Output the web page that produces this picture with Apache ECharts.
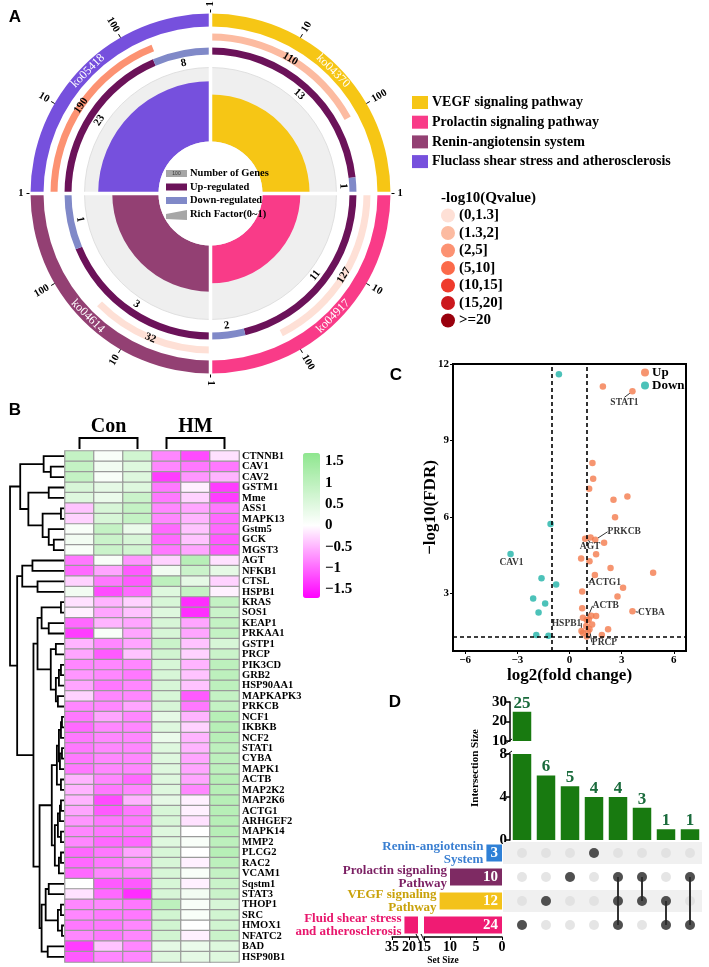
<!DOCTYPE html>
<html>
<head>
<meta charset="utf-8">
<script src="https://cdn.jsdelivr.net/npm/echarts@6/dist/echarts.min.js"></script>
<style>
html, body { margin: 0; padding: 0; background: #fff; }
#main { width: 709px; height: 967px; }
</style>
</head>
<body>
<div id="main"></div>
<script>
// ---------- A: KEGG circle ----------
const pathways = ['VEGF signaling pathway', 'Prolactin signaling pathway', 'Renin-angiotensin system', 'Fluclass shear stress and atherosclerosis'];
const koIds = ['ko04370', 'ko04917', 'ko04614', 'ko05418'];
const bgGenes = [110, 127, 32, 190];
const upGenes = [13, 11, 3, 23];
const downGenes = [1, 2, 1, 8];
const qScore = [1.6, 1.0, 0.9, 2.6]; // -log10(Qvalue)
const qBins = ['(0,1.3]', '(1.3,2]', '(2,5]', '(5,10]', '(10,15]', '(15,20]', '>=20'];
const qBreaks = [1.3, 2, 5, 10, 15, 20];
const ringTicks = [1, 10, 100];

// ---------- B: heatmap ----------
const samples = ['Con1', 'Con2', 'Con3', 'HM1', 'HM2', 'HM3'];
const colGroups = [['Con', 0, 2], ['HM', 3, 5]];
const genes = ['CTNNB1', 'CAV1', 'CAV2', 'GSTM1', 'Mme', 'ASS1', 'MAPK13', 'Gstm5', 'GCK', 'MGST3',
  'AGT', 'NFKB1', 'CTSL', 'HSPB1', 'KRAS', 'SOS1', 'KEAP1', 'PRKAA1', 'GSTP1', 'PRCP',
  'PIK3CD', 'GRB2', 'HSP90AA1', 'MAPKAPK3', 'PRKCB', 'NCF1', 'IKBKB', 'NCF2', 'STAT1', 'CYBA',
  'MAPK1', 'ACTB', 'MAP2K2', 'MAP2K6', 'ACTG1', 'ARHGEF2', 'MAPK14', 'MMP2', 'PLCG2', 'RAC2',
  'VCAM1', 'Sqstm1', 'STAT3', 'THOP1', 'SRC', 'HMOX1', 'NFATC2', 'BAD', 'HSP90B1'];
const zScores = [
  [0.9, 0.1, 0.7, -0.8, -1.2, -0.2], [0.9, 0.2, 0.5, -0.8, -0.9, -0.9], [0.9, 0.1, 0.5, -1.3, -0.7, -0.5],
  [0.6, 0.4, 0.5, -0.9, -0.1, -1.3], [0.5, 0.3, 0.8, -0.9, -0.3, -1.3], [-0.4, 0.6, 0.9, -0.8, -0.6, -0.9],
  [-0.3, 0.6, 0.9, -0.8, -0.5, -1.0], [0.1, 0.9, 0.3, -1.0, -0.4, -1.0], [0.2, 0.8, 0.6, -1.0, -0.4, -1.1],
  [0.1, 0.8, 0.7, -0.9, -0.6, -1.1], [-0.9, 0.1, -0.7, -0.3, 1.1, -0.2], [-1.0, -0.6, -1.1, 0.2, 0.8, 0.4],
  [-0.3, -0.9, -1.1, 1.0, 0.4, -0.3], [0.2, -1.2, -1.0, 0.5, 0.9, -0.1], [-0.2, -0.5, -0.3, 0.6, -1.4, 0.9],
  [-0.1, -0.6, -0.4, 0.5, -1.4, 0.8], [-1.0, -0.5, -0.6, 0.6, -0.6, 0.9], [-1.3, 0.1, -0.6, 0.6, -0.6, 0.9],
  [-0.5, -0.8, -0.6, 0.8, -0.4, 0.6], [-0.6, -1.1, -0.4, 0.7, -0.3, 0.8], [-0.8, -0.8, -0.8, 0.6, -0.5, 1.0],
  [-0.7, -0.8, -0.9, 0.6, -0.4, 1.0], [-0.6, -0.9, -0.8, 0.6, -0.4, 1.0], [-0.3, -0.8, -0.8, 0.6, -1.1, 0.9],
  [-0.8, -0.8, -0.6, 0.6, -0.9, 0.9], [-0.9, -0.6, -0.8, 0.4, -0.5, 1.1], [-1.0, -0.8, -0.8, 0.5, -0.3, 1.1],
  [-0.9, -0.8, -0.8, 0.3, -0.5, 1.1], [-0.9, -0.8, -0.8, 0.5, -0.5, 1.0], [-0.9, -0.8, -0.8, 0.5, -0.6, 1.0],
  [-0.9, -0.8, -0.8, 0.5, -0.6, 1.0], [-0.5, -0.8, -1.0, 0.5, -0.6, 1.1], [-0.5, -0.9, -0.8, 0.5, -0.8, 1.1],
  [-0.5, -1.2, -0.5, 0.4, -0.1, 1.1], [-0.6, -1.1, -0.9, 0.6, -0.1, 1.1], [-0.7, -0.9, -0.9, 0.6, -0.2, 1.1],
  [-0.8, -0.9, -0.9, 0.5, 0.0, 1.1], [-0.8, -1.0, -1.0, 0.5, 0.1, 1.0], [-1.0, -0.9, -0.6, 0.6, 0.0, 1.1],
  [-1.0, -0.9, -0.7, 0.6, -0.1, 1.0], [-1.0, -0.8, -0.8, 0.6, 0.1, 0.9], [0.0, -1.1, -1.1, 0.6, -0.1, 0.8],
  [-0.2, -1.0, -1.4, 0.6, 0.2, 0.8], [-0.8, -0.8, -0.9, 1.0, 0.1, 0.6], [-0.8, -0.9, -0.9, 0.7, 0.1, 0.7],
  [-0.9, -0.9, -0.8, 0.7, 0.0, 0.7], [-0.8, -0.9, -0.8, 0.7, -0.1, 0.8], [-1.3, -0.4, -0.8, 0.4, 0.3, 0.5],
  [-1.1, -0.8, -0.8, 0.5, 0.4, 0.5]
];
const colorTicks = [-1.5, -1, -0.5, 0, 0.5, 1, 1.5];
// row clustering: [height, left, right], leaves are row indices
const rowTree = [53,
  [43, [20, 0, [13, 1, 2]], [35, [15, 3, 4], [21, [3, 5, 6], [15, 7, [10, 8, 9]]]]],
  [46,
    [41, [31, 10, 11], [26, 12, 13]],
    [30,
      [26, [22, [3, 14, 15], [15, 16, 17]], [13, [8, 18, 19], [8, [5, [3, 20, 21], 22], [6, 23, 24]]]],
      [24,
        [12, [7, [5, [3, [2, 25, 26], 27], [4, [2, 28, 29], 30]], [3, 31, 32]],
             [9, [6, [4, [3, 33, 34], 35], [3, 36, 37]], [5, [3, 38, 39], 40]]],
        [22, [18, [15, 41, 42], [6, [3, 43, 44], [2, 45, 46]]], [16, 47, 48]]]]]];

// ---------- C: volcano ----------
const volcanoUp = [[1.92, 11.12, ''], [3.62, 10.93, 'STAT1'], [1.32, 8.12, ''], [1.36, 7.5, ''], [1.13, 7.11, ''],
  [3.33, 6.81, ''], [2.53, 6.68, ''], [2.62, 5.99, ''], [1.21, 5.2, ''], [0.90, 5.15, 'AGT'], [1.48, 5.11, 'PRKCB'],
  [1.99, 4.99, ''], [1.53, 4.54, ''], [0.67, 4.38, ''], [1.15, 4.27, ''], [2.36, 4.0, ''], [4.81, 3.82, ''],
  [1.46, 3.73, 'ACTG1'], [3.08, 3.23, ''], [0.73, 3.08, ''], [2.76, 2.89, ''], [3.62, 2.31, 'CYBA'], [0.73, 2.43, ''],
  [0.77, 2.05, ''], [0.99, 1.97, 'ACTB'], [1.25, 2.13, ''], [1.53, 2.12, ''], [1.11, 1.98, ''], [1.30, 1.79, ''],
  [0.96, 1.73, ''], [2.22, 1.6, ''], [0.69, 1.53, 'HSPB1'], [1.07, 1.52, ''], [0.77, 1.46, ''], [1.15, 1.6, 'PRCP'],
  [1.86, 1.38, ''], [0.99, 1.32, '']];
const volcanoDown = [[-0.61, 11.6, ''], [-1.09, 5.73, ''], [-3.39, 4.55, 'CAV1'], [-1.61, 3.6, ''], [-0.77, 3.36, ''],
  [-2.09, 2.81, ''], [-1.40, 2.61, ''], [-1.78, 2.26, ''], [-1.91, 1.38, ''], [-1.21, 1.35, '']];
const fcCut = 1;
const fdrCut = 1.3;
const volcanoXTicks = [-6, -3, 0, 3, 6];
const volcanoYTicks = [3, 6, 9, 12];

// ---------- D: upset ----------
const setNames = ['Renin-angiotensin\nSystem', 'Prolactin signaling\nPathway', 'VEGF signaling\nPathway', 'Fluid shear stress\nand atherosclerosis'];
const setSizes = [3, 10, 12, 24];
const intersectSizes = [25, 6, 5, 4, 4, 3, 1, 1];
const intersectMembers = [[3], [2], [1], [0], [1, 2, 3], [1, 2], [2, 3], [1, 3]];

// ---------- styles ----------
const SERIF = "'Liberation Serif','Times New Roman',serif";
const SANS = "'Liberation Sans',Arial,sans-serif";
const fb = s => 'bold ' + s + 'px ' + SERIF;
const pwColors = ['#f6c615', '#f93b88', '#934073', '#7650dd'];
const qColors = ['#fee0d6', '#fcbba1', '#fc9272', '#fb6a4a', '#ef3b2c', '#cb181d', '#99000d'];
const UP_C = '#6b1259', DOWN_C = '#8089c8';
const R = { hole: 52, bg: 126, udIn: 139, udOut: 146, udLabel: 133, qIn: 153, qOut: 160, qMid: 156.5,
  koIn: 167, koOut: 180, koMid: 173.5, tick: 184, tickLabel: 187 };
const RICH_MAX = 0.2, RING_DECADES = 3;
const setColors = ['#2f80d6', '#7e2a63', '#f3c21b', '#f01b73'];
const setLabelColors = ['#3a7fd1', '#7b1f63', '#c9a20a', '#e8166c'];
const minus = v => String(v).replace('-', '\u2212');

function qColor(s) {
  const k = qBreaks.findIndex(b => s <= b);
  return qColors[k < 0 ? qColors.length - 1 : k];
}

function polarHelpers(params, api) {
  const cs = params.coordSys;
  const pt = (r, a) => api.coord([r, a]);
  const ang = p => Math.atan2(p[1] - cs.cy, p[0] - cs.cx);
  const dist = p => Math.hypot(p[0] - cs.cx, p[1] - cs.cy);
  return {
    pt,
    sector(a0, a1, r0, r1, style) {
      const p0 = pt(r1, a0), p1 = pt(r1, a1);
      let s = ang(p0), e = ang(p1);
      if (e <= s) e += Math.PI * 2;
      return { type: 'sector', shape: { cx: cs.cx, cy: cs.cy, r0: dist(pt(r0, a0)), r: dist(p0), startAngle: s, endAngle: e, clockwise: true }, style };
    },
    radialText(r, a, text, font) {
      const p = pt(r, a), t = ang(p), right = Math.cos(t) > -1e-6;
      return { type: 'text', x: p[0], y: p[1], rotation: right ? -t : Math.PI - t,
        style: { text, font, fill: '#000', align: right ? 'left' : 'right', verticalAlign: 'middle' } };
    },
    tangText(r, a, text, font, fill) {
      const p = pt(r, a), t = ang(p);
      const rot = Math.sin(t) <= 1e-6 ? -(t + Math.PI / 2) : -(t - Math.PI / 2);
      return { type: 'text', x: p[0], y: p[1], rotation: rot,
        style: { text, font, fill: fill || '#000', align: 'center', verticalAlign: 'middle' } };
    }
  };
}

function renderPathway(params, api) {
  const i = params.dataIndex, h = polarHelpers(params, api);
  const total = upGenes[i] + downGenes[i];
  const rich = total / bgGenes[i];
  const upEnd = i + upGenes[i] / total;
  const qEnd = i + Math.log10(bgGenes[i]) / RING_DECADES;
  const richR = R.hole + rich / RICH_MAX * (R.bg - R.hole);
  const kids = [
    h.sector(i, i + 1, R.hole, R.bg, { fill: '#efefef', stroke: '#d9d9d9', lineWidth: 0.8 }),
    h.sector(i, i + 1, R.hole, richR, { fill: pwColors[i] }),
    h.sector(i, upEnd, R.udIn, R.udOut, { fill: UP_C }),
    h.sector(upEnd, i + 1, R.udIn, R.udOut, { fill: DOWN_C }),
    h.sector(i, qEnd, R.qIn, R.qOut, { fill: qColor(qScore[i]) }),
    h.sector(i, i + 1, R.koIn, R.koOut, { fill: pwColors[i] }),
    h.tangText(R.udLabel, (i + upEnd) / 2, String(upGenes[i]), fb(11)),
    h.tangText(R.udLabel, (upEnd + i + 1) / 2, String(downGenes[i]), fb(11)),
    h.tangText(R.qMid, (i + qEnd) / 2, String(bgGenes[i]), fb(11)),
    h.tangText(R.koMid, i + 0.5, koIds[i], '12px ' + SERIF, '#fff')
  ];
  ringTicks.forEach(t => {
    const a = i + Math.log10(t) / RING_DECADES;
    const p0 = h.pt(R.koOut, a), p1 = h.pt(R.tick, a);
    kids.push({ type: 'line', shape: { x1: p0[0], y1: p0[1], x2: p1[0], y2: p1[1] }, style: { stroke: '#000', lineWidth: 1 } });
    kids.push(h.radialText(R.tickLabel, a, String(t), fb(10.5)));
  });
  return { type: 'group', children: kids };
}

function renderGap(params, api) {
  const i = params.dataIndex;
  const p0 = api.coord([0, i]), p1 = api.coord([R.koOut + 1, i]);
  return { type: 'line', shape: { x1: p0[0], y1: p0[1], x2: p1[0], y2: p1[1] }, style: { stroke: '#fff', lineWidth: 3.5 } };
}

// dendrogram links from the tree
const rowLinks = [];
function layoutTree(node) {
  if (typeof node === 'number') return { pos: node, h: 0 };
  const a = layoutTree(node[1]), b = layoutTree(node[2]);
  rowLinks.push([a.h, a.pos, b.h, b.pos, node[0]]);
  return { pos: (a.pos + b.pos) / 2, h: node[0] };
}
layoutTree(rowTree);

const heatData = [];
zScores.forEach((row, r) => row.forEach((v, c) => heatData.push([c, r, v])));

const labelOffsets = { STAT1: [-8, 11], PRKCB: [29, -8], AGT: [5, 8], CAV1: [1, 8], ACTG1: [10, 8],
  ACTB: [19, -14], CYBA: [19, 1], HSPB1: [-15, -8], PRCP: [15, 13] };
const toPoints = arr => arr.map(d => ({ value: [d[0], d[1]], name: d[2], label: { show: !!d[2] } }));

const U1_MIN = 10, U2_MAX = 8, S1_MAX = 15, S2_MIN = 12;
const matrixAll = [];
intersectSizes.forEach((_, c) => setNames.forEach((_, r) => matrixAll.push([c, r])));
const matrixOn = [];
intersectMembers.forEach((m, c) => m.forEach(r => matrixOn.push([c, r])));
const matrixLinks = intersectMembers.map((m, c) => [c, Math.min(...m), Math.max(...m)]).filter(d => d[1] !== d[2]);
const bandRows = setNames.map((_, r) => [0, r]).filter(d => d[1] % 2 === 0);

const G = (left, top, width, height, extra) => Object.assign({ left, top, width, height, containLabel: false, outerBoundsMode: 'none' }, extra || {});
const hidden = (gi, extra) => Object.assign({ gridIndex: gi, show: false }, extra);
const axisBlack = { lineStyle: { color: '#000', width: 1.5 } };

// ---------- graphics (legends, panel letters) ----------
const graphics = [];
const txt = (x, y, text, font, extra) => graphics.push(Object.assign({ type: 'text', x, y, z: 100,
  style: Object.assign({ text, font, fill: '#000', align: 'left', verticalAlign: 'middle' }, extra || {}) }));
txt(15, 17, 'A', 'bold 17px ' + SANS, { align: 'center' });
txt(15, 410, 'B', 'bold 17px ' + SANS, { align: 'center' });
txt(396, 375, 'C', 'bold 17px ' + SANS, { align: 'center' });
txt(395, 702, 'D', 'bold 17px ' + SANS, { align: 'center' });
pathways.forEach((p, i) => {
  graphics.push({ type: 'rect', z: 100, shape: { x: 412, y: 96 + i * 19.7, width: 16, height: 13 }, style: { fill: pwColors[i] } });
  txt(432, 102.5 + i * 19.7, p, fb(14));
});
txt(441, 198, '-log10(Qvalue)', fb(15));
qBins.forEach((b, i) => {
  graphics.push({ type: 'circle', z: 100, shape: { cx: 448, cy: 215.5 + i * 17.5, r: 7 }, style: { fill: qColors[i] } });
  txt(459, 215.5 + i * 17.5, b, fb(15));
});
// centre key of the circle
graphics.push({ type: 'circle', z: 99, shape: { cx: 210.5, cy: 193.5, r: R.hole }, style: { fill: '#fff' } });
graphics.push({ type: 'rect', z: 100, shape: { x: 166, y: 170, width: 21, height: 7 }, style: { fill: '#a6a6a6' } });
txt(176.5, 173.5, '100', '5px ' + SANS, { align: 'center', fill: '#333' });
graphics.push({ type: 'rect', z: 100, shape: { x: 166, y: 183.5, width: 21, height: 7 }, style: { fill: UP_C } });
graphics.push({ type: 'rect', z: 100, shape: { x: 166, y: 197, width: 21, height: 7 }, style: { fill: DOWN_C } });
graphics.push({ type: 'polygon', z: 100, shape: { points: [[166, 214], [187, 210], [187, 220], [166, 219]] }, style: { fill: '#a6a6a6' } });
txt(190, 173.5, 'Number of Genes', fb(10.5));
txt(190, 187, 'Up-regulated', fb(10.5));
txt(190, 200.5, 'Down-regulated', fb(10.5));
txt(190, 214.5, 'Rich Factor(0~1)', fb(10.5));
// upset decorations
txt(475, 768, 'Intersection Size', fb(11), { align: 'center' });
graphics[graphics.length - 1].rotation = Math.PI / 2;
txt(443, 961, 'Set Size', fb(9.5), { align: 'center' });
[[505, 744, 512, 739], [505, 756, 512, 751], [416, 934, 420, 942], [421, 934, 425, 942]].forEach(l =>
  graphics.push({ type: 'line', z: 100, shape: { x1: l[0], y1: l[1], x2: l[2], y2: l[3] }, style: { stroke: '#000', lineWidth: 1 } }));

const option = {
  animation: false,
  backgroundColor: '#fff',
  textStyle: { fontFamily: SERIF },
  polar: { center: [210.5, 193.5], radius: [0, 180] },
  angleAxis: { type: 'value', min: 0, max: 4, startAngle: 90, clockwise: true, show: false },
  radiusAxis: { type: 'value', min: 0, max: 180, show: false },
  grid: [
    G(65, 451, 174, 511),   // 0 heatmap
    G(8, 451, 56, 511),     // 1 row dendrogram
    G(65, 438, 174, 11),    // 2 column brackets
    G(320, 453, 1, 145),    // 3 colour bar labels
    G(453, 364, 233, 287, { show: true, borderColor: '#000', borderWidth: 2, backgroundColor: 'transparent' }),  // 4 volcano
    G(510, 702, 192, 39),   // 5 upset bars (upper)
    G(510, 754, 192, 86),   // 6 upset bars (lower)
    G(510, 841, 192, 96),   // 7 matrix
    G(424, 841, 78, 96),    // 8 set size right
    G(392, 841, 26, 96)     // 9 set size left
  ],
  xAxis: [
    hidden(0, { type: 'category', data: samples }),
    hidden(1, { type: 'value', min: 0, max: 55, inverse: true }),
    hidden(2, { type: 'value', min: -0.5, max: 5.5 }),
    hidden(3, { type: 'value' }),
    { gridIndex: 4, type: 'value', min: -6.7, max: 6.7, name: 'log2(fold change)', nameLocation: 'middle', nameGap: 16,
      nameMoveOverlap: false,
      nameTextStyle: { fontFamily: SERIF, fontWeight: 'bold', fontSize: 17, color: '#000', verticalAlign: 'top' },
      axisLine: { show: true, onZero: false, lineStyle: { color: '#000', width: 2 } },
      axisTick: { show: true, length: 3, customValues: volcanoXTicks, lineStyle: { color: '#000' } },
      axisLabel: { customValues: volcanoXTicks, formatter: minus, margin: 4, color: '#000', fontFamily: SERIF, fontWeight: 'bold', fontSize: 11 },
      splitLine: { show: false } },
    hidden(5, { type: 'category', data: intersectSizes.map((_, i) => i) }),
    hidden(6, { type: 'category', data: intersectSizes.map((_, i) => i) }),
    hidden(7, { type: 'category', data: intersectSizes.map((_, i) => i) }),
    { gridIndex: 8, type: 'value', min: 0, max: S1_MAX, inverse: true, axisLine: Object.assign({ show: true }, axisBlack),
      axisTick: { show: true, length: 3, customValues: [0, 5, 10, 15], lineStyle: { color: '#000' } },
      axisLabel: { customValues: [0, 5, 10, 15], margin: 3, color: '#000', fontFamily: SERIF, fontWeight: 'bold', fontSize: 14 },
      splitLine: { show: false } },
    { gridIndex: 9, type: 'value', min: S2_MIN, max: 35, inverse: true, axisLine: Object.assign({ show: true }, axisBlack),
      axisTick: { show: true, length: 3, customValues: [20, 35], lineStyle: { color: '#000' } },
      axisLabel: { customValues: [20, 35], margin: 3, color: '#000', fontFamily: SERIF, fontWeight: 'bold', fontSize: 14 },
      splitLine: { show: false } }
  ],
  yAxis: [
    { gridIndex: 0, type: 'category', data: genes, inverse: true, position: 'right',
      axisLine: { show: false }, axisTick: { show: false },
      axisLabel: { margin: 3, color: '#000', fontFamily: SERIF, fontWeight: 'bold', fontSize: 10.5, interval: 0 } },
    hidden(1, { type: 'value', min: -0.5, max: genes.length - 0.5, inverse: true }),
    hidden(2, { type: 'value', min: 0, max: 1 }),
    { gridIndex: 3, type: 'value', min: -1.7, max: 1.7, position: 'right',
      axisLine: { show: false }, axisTick: { show: false }, splitLine: { show: false },
      axisLabel: { customValues: colorTicks, formatter: minus, margin: 4, color: '#000', fontFamily: SERIF, fontWeight: 'bold', fontSize: 15 } },
    { gridIndex: 4, type: 'value', min: 0.75, max: 12, name: '\u2212log10(FDR)', nameLocation: 'middle', nameGap: 14, nameRotate: 90,
      nameMoveOverlap: false,
      nameTextStyle: { fontFamily: SERIF, fontWeight: 'bold', fontSize: 17, color: '#000' },
      axisLine: { show: true, onZero: false, lineStyle: { color: '#000', width: 2 } },
      axisTick: { show: true, length: 3, customValues: volcanoYTicks, lineStyle: { color: '#000' } },
      axisLabel: { customValues: volcanoYTicks, margin: 4, color: '#000', fontFamily: SERIF, fontWeight: 'bold', fontSize: 11 },
      splitLine: { show: false } },
    { gridIndex: 5, type: 'value', min: U1_MIN, max: 30, axisLine: Object.assign({ show: true }, axisBlack),
      axisTick: { show: true, length: 4, customValues: [10, 20, 30], lineStyle: { color: '#000', width: 1.5 } },
      axisLabel: { customValues: [10, 20, 30], margin: 3, color: '#000', fontFamily: SERIF, fontWeight: 'bold', fontSize: 15 },
      splitLine: { show: false } },
    { gridIndex: 6, type: 'value', min: 0, max: U2_MAX, interval: 4, axisLine: Object.assign({ show: true }, axisBlack),
      axisTick: { show: true, length: 4, lineStyle: { color: '#000', width: 1.5 } },
      axisLabel: { margin: 3, color: '#000', fontFamily: SERIF, fontWeight: 'bold', fontSize: 15 },
      splitLine: { show: false } },
    hidden(7, { type: 'category', data: setNames, inverse: true }),
    hidden(8, { type: 'category', data: setNames, inverse: true }),
    hidden(9, { type: 'category', data: setNames, inverse: true })
  ],
  visualMap: [{
    type: 'continuous', seriesIndex: 0, min: -1.7, max: 1.7, left: 303, top: 453, itemWidth: 17, itemHeight: 145,
    padding: 0, calculable: false, realtime: false, text: null, showLabel: false,
    inRange: { color: ['#ff00ff', '#ffffff', '#8fe68f'] }
  }],
  legend: {
    data: ['Up', 'Down'], left: 641, top: 366, orient: 'vertical', itemWidth: 8, itemHeight: 8, itemGap: 0, padding: 0,
    icon: 'circle', selectedMode: false,
    textStyle: { fontFamily: SERIF, fontWeight: 'bold', fontSize: 13, color: '#000', padding: [0, 0, 0, -2] }
  },
  graphic: { elements: graphics },
  series: [
    { type: 'heatmap', xAxisIndex: 0, yAxisIndex: 0, data: heatData,
      itemStyle: { borderColor: '#9a9a9a', borderWidth: 1.2 }, emphasis: { disabled: true } },
    { type: 'custom', xAxisIndex: 1, yAxisIndex: 1, data: rowLinks, silent: true,
      renderItem(params, api) {
        const d = rowLinks[params.dataIndex];
        const pts = [api.coord([d[0], d[1]]), api.coord([d[4], d[1]]), api.coord([d[4], d[3]]), api.coord([d[2], d[3]])];
        return { type: 'polyline', shape: { points: pts }, style: { stroke: '#000', lineWidth: 1.8, fill: null } };
      } },
    { type: 'custom', xAxisIndex: 2, yAxisIndex: 2, data: colGroups.map(g => [g[1], g[2]]), silent: true,
      renderItem(params, api) {
        const g = colGroups[params.dataIndex];
        const pts = [api.coord([g[1], 0]), api.coord([g[1], 1]), api.coord([g[2], 1]), api.coord([g[2], 0])];
        const mid = api.coord([(g[1] + g[2]) / 2, 1]);
        return { type: 'group', children: [
          { type: 'polyline', shape: { points: pts }, style: { stroke: '#000', lineWidth: 2, fill: null } },
          { type: 'text', x: mid[0], y: mid[1] - 11, style: { text: g[0], font: fb(20), fill: '#000', align: 'center', verticalAlign: 'middle' } }
        ] };
      } },
    { name: 'Up', type: 'scatter', xAxisIndex: 4, yAxisIndex: 4, data: toPoints(volcanoUp), symbolSize: 6.5,
      itemStyle: { color: '#f47b4c' },
      label: { position: 'inside', formatter: p => p.name, fontFamily: SERIF, fontWeight: 'bold', fontSize: 9.5, color: '#000' },
      labelLine: { show: true, lineStyle: { color: '#000', width: 0.8 } },
      labelLayout: p => { const o = labelOffsets[p.text]; return o ? { dx: o[0], dy: o[1] } : {}; },
      markLine: { silent: true, symbol: 'none', label: { show: false },
        lineStyle: { color: '#000', type: [4, 3], width: 1.6 },
        data: [{ xAxis: -fcCut }, { xAxis: fcCut }, { yAxis: fdrCut }] } },
    { name: 'Down', type: 'scatter', xAxisIndex: 4, yAxisIndex: 4, data: toPoints(volcanoDown), symbolSize: 6.5,
      itemStyle: { color: '#1fb3a7' },
      label: { position: 'inside', formatter: p => p.name, fontFamily: SERIF, fontWeight: 'bold', fontSize: 9.5, color: '#000' },
      labelLine: { show: true, lineStyle: { color: '#000', width: 0.8 } },
      labelLayout: p => { const o = labelOffsets[p.text]; return o ? { dx: o[0], dy: o[1] } : {}; } },
    { type: 'bar', xAxisIndex: 5, yAxisIndex: 5, data: intersectSizes.map(v => v > U1_MIN ? v : '-'), barWidth: 18.5,
      itemStyle: { color: '#187a10' },
      label: { show: true, position: 'top', distance: 0, color: '#1a6b3c', fontFamily: SERIF, fontWeight: 'bold', fontSize: 17 } },
    { type: 'bar', xAxisIndex: 6, yAxisIndex: 6, barWidth: 18.5, itemStyle: { color: '#187a10' },
      data: intersectSizes.map(v => ({ value: v, label: { show: v <= U2_MAX } })),
      label: { position: 'top', distance: 0, color: '#1a6b3c', fontFamily: SERIF, fontWeight: 'bold', fontSize: 17 } },
    { type: 'custom', xAxisIndex: 7, yAxisIndex: 7, data: bandRows, silent: true, z: 1,
      renderItem(params, api) {
        const cs = params.coordSys, c = api.coord([0, bandRows[params.dataIndex][1]]);
        return { type: 'rect', shape: { x: cs.x - 7, y: c[1] - 11, width: cs.width + 7, height: 22 }, style: { fill: '#f0f0f0' } };
      } },
    { type: 'scatter', xAxisIndex: 7, yAxisIndex: 7, data: matrixAll, symbolSize: 10, itemStyle: { color: '#dedede' }, silent: true },
    { type: 'custom', xAxisIndex: 7, yAxisIndex: 7, data: matrixLinks, silent: true, z: 3,
      renderItem(params, api) {
        const d = matrixLinks[params.dataIndex], a = api.coord([d[0], d[1]]), b = api.coord([d[0], d[2]]);
        return { type: 'line', shape: { x1: a[0], y1: a[1], x2: b[0], y2: b[1] }, style: { stroke: '#333', lineWidth: 2 } };
      } },
    { type: 'scatter', xAxisIndex: 7, yAxisIndex: 7, data: matrixOn, symbolSize: 10, itemStyle: { color: '#2b2b2b' }, silent: true, z: 4 },
    { type: 'bar', xAxisIndex: 8, yAxisIndex: 8, barWidth: 17, barGap: '-100%',
      data: setSizes.map((v, i) => ({ value: v, itemStyle: { color: setColors[i] } })),
      label: { show: true, position: 'insideRight', distance: 4, color: '#fff', fontFamily: SERIF, fontWeight: 'bold', fontSize: 15 } },
    { type: 'bar', xAxisIndex: 8, yAxisIndex: 8, barWidth: 17, barGap: '-100%', itemStyle: { color: 'rgba(0,0,0,0)' },
      data: setSizes.map((v, i) => ({ value: v, label: { show: v <= S1_MAX, color: setLabelColors[i] } })),
      label: { position: 'left', distance: 3, formatter: p => setNames[p.dataIndex], align: 'right',
        fontFamily: SERIF, fontWeight: 'bold', fontSize: 13, lineHeight: 13 } },
    { type: 'bar', xAxisIndex: 9, yAxisIndex: 9, barWidth: 17,
      data: setSizes.map((v, i) => v > S1_MAX ? { value: v, itemStyle: { color: setColors[i] }, label: { color: setLabelColors[i] } } : '-'),
      label: { show: true, position: 'left', distance: 3, formatter: p => setNames[p.dataIndex], align: 'right',
        fontFamily: SERIF, fontWeight: 'bold', fontSize: 13, lineHeight: 13 } },
    { type: 'custom', coordinateSystem: 'polar', data: pathways.map((_, i) => [0, i]), renderItem: renderPathway, silent: true, z: 2 },
    { type: 'custom', coordinateSystem: 'polar', data: pathways.map((_, i) => [0, i]), renderItem: renderGap, silent: true, z: 5 }
  ]
};

const chart = echarts.init(document.getElementById('main'));
chart.setOption(option);
</script>
</body>
</html>
